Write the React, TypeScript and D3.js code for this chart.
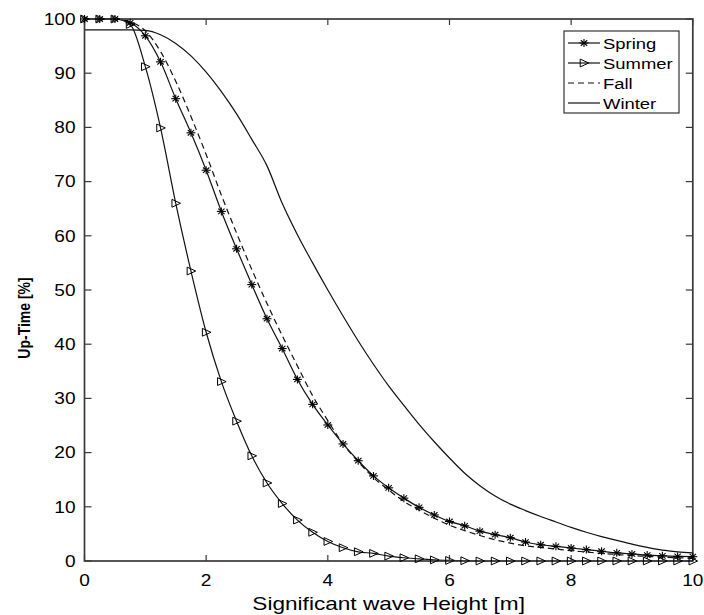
import React from "react";
import * as d3 from "d3";

const HEIGHTS = [0, 0.25, 0.5, 0.75, 1, 1.25, 1.5, 1.75, 2, 2.25, 2.5, 2.75, 3, 3.25, 3.5, 3.75, 4, 4.25, 4.5, 4.75, 5, 5.25, 5.5, 5.75, 6, 6.25, 6.5, 6.75, 7, 7.25, 7.5, 7.75, 8, 8.25, 8.5, 8.75, 9, 9.25, 9.5, 9.75, 10];

const SPRING = [100, 100, 100, 99.3, 96.9, 92.1, 85.3, 79.0, 72.1, 64.5, 57.6, 51.0, 44.7, 39.2, 33.5, 28.9, 25.1, 21.6, 18.5, 15.7, 13.5, 11.6, 9.9, 8.5, 7.3, 6.5, 5.5, 4.85, 4.3, 3.5, 3.0, 2.7, 2.4, 2.1, 1.8, 1.5, 1.3, 1.1, 0.95, 0.85, 0.8];
const SUMMER = [100, 100, 100, 99, 91.2, 79.9, 66, 53.5, 42.2, 33.1, 25.8, 19.4, 14.4, 10.6, 7.55, 5.3, 3.6, 2.45, 1.7, 1.4, 0.9, 0.6, 0.4, 0.2, 0.1, 0.05, 0, 0, 0, 0, 0, 0, 0, 0, 0, 0, 0, 0, 0, 0, 0];
const FALL = [100, 100, 100, 99.5, 97.8, 94.0, 88.5, 82.0, 75.0, 67.5, 60.5, 53.8, 47.5, 41.6, 36.0, 30.5, 25.9, 21.6, 18.3, 15.4, 13.1, 11.0, 9.4, 7.9, 6.6, 5.6, 4.7, 3.9, 3.3, 2.8, 2.5, 2.2, 1.9, 1.65, 1.4, 1.2, 1.0, 0.85, 0.7, 0.6, 0.5];
const WINTER = [98, 98, 98, 98, 97.9, 97.1, 95.5, 93.2, 90.2, 86.6, 82.5, 77.8, 72.9, 66.0, 60.2, 55.0, 50.0, 45.2, 40.6, 36.3, 32.3, 28.7, 25.2, 22.0, 19.0, 16.2, 13.9, 12.0, 10.5, 9.3, 8.2, 7.2, 6.2, 5.3, 4.5, 3.8, 3.1, 2.5, 2.0, 1.7, 1.5];

const X_TICKS = [0, 2, 4, 6, 8, 10];
const Y_TICKS = [0, 10, 20, 30, 40, 50, 60, 70, 80, 90, 100];
const SERIES_NAMES = ["Spring", "Summer", "Fall", "Winter"];
const X_LABEL = "Significant wave Height [m]";
const Y_LABEL = "Up-Time [%]";

const FONT = "'Liberation Sans', Arial, Helvetica, sans-serif";
const SX = 1.19;

const W = 704, H = 615;
const L = 84.5, R = 692.8, T = 19, B = 561;

function Asterisk({ x, y }: { x: number; y: number }) {
  const a = 4.5, b = 4, d = 3.2;
  return (
    <g stroke="#000" strokeWidth={1.1}>
      <line x1={x - a} y1={y} x2={x + a} y2={y} />
      <line x1={x} y1={y - b} x2={x} y2={y + b} />
      <line x1={x - d} y1={y - d * 0.85} x2={x + d} y2={y + d * 0.85} />
      <line x1={x - d} y1={y + d * 0.85} x2={x + d} y2={y - d * 0.85} />
    </g>
  );
}

function TriRight({ x, y }: { x: number; y: number }) {
  return (
    <path
      d={`M${x - 3.8},${y - 3.9}L${x + 4.8},${y}L${x - 3.8},${y + 3.9}Z`}
      fill="none"
      stroke="#000"
      strokeWidth={1}
    />
  );
}

export default function App() {
  const x = d3.scaleLinear().domain([0, 10]).range([L, R]);
  const y = d3.scaleLinear().domain([0, 100]).range([B, T]);
  const line = d3
    .line<number>()
    .x((_, i) => x(HEIGHTS[i]))
    .y((v) => y(v))
    .curve(d3.curveMonotoneX);

  const legendX = 564, legendY = 31, legendW = 115, legendH = 82;
  const entryY = (i: number) => 43 + i * 20;

  return (
    <svg
      width={W}
      height={H}
      style={{ position: "absolute", left: 0, top: 0, background: "#fff" }}
      fontFamily={FONT}
    >
      <rect x={0} y={0} width={W} height={H} fill="#fff" />
      {/* series lines */}
      <path d={line(WINTER) || ""} fill="none" stroke="#111" strokeWidth={1.2} />
      <path d={line(FALL) || ""} fill="none" stroke="#111" strokeWidth={1.2} strokeDasharray="6,4" />
      <path d={line(SPRING) || ""} fill="none" stroke="#111" strokeWidth={1.2} />
      <path d={line(SUMMER) || ""} fill="none" stroke="#111" strokeWidth={1.2} />

      {/* axes box */}
      <g stroke="#3a3a3a" strokeWidth={1.7} fill="none">
        <rect x={L} y={T} width={R - L} height={B - T} />
      </g>
      <g stroke="#3a3a3a" strokeWidth={1.2}>
        {X_TICKS.map((t) => (
          <g key={"xt" + t}>
            <line x1={x(t)} x2={x(t)} y1={B} y2={B - 6} />
            <line x1={x(t)} x2={x(t)} y1={T} y2={T + 6} />
          </g>
        ))}
        {Y_TICKS.map((t) => (
          <g key={"yt" + t}>
            <line x1={L} x2={L + 7} y1={y(t)} y2={y(t)} />
            <line x1={R} x2={R - 7} y1={y(t)} y2={y(t)} />
          </g>
        ))}
      </g>

      {/* markers */}
      {SPRING.map((v, i) => (
        <Asterisk key={"sp" + i} x={x(HEIGHTS[i])} y={y(v)} />
      ))}
      {SUMMER.map((v, i) => (
        <TriRight key={"su" + i} x={x(HEIGHTS[i])} y={y(v)} />
      ))}

      {/* tick labels */}
      {X_TICKS.map((t) => (
        <text
          key={"xl" + t}
          transform={`translate(${x(t)},${586}) scale(${SX},1)`}
          textAnchor="middle"
          fontSize={16}
          fill="#000"
        >
          {t}
        </text>
      ))}
      {Y_TICKS.map((t) => (
        <text
          key={"yl" + t}
          transform={`translate(${75.5},${y(t) + 5.8}) scale(${SX},1)`}
          textAnchor="end"
          fontSize={16}
          fill="#000"
        >
          {t}
        </text>
      ))}

      {/* axis labels */}
      <text
        transform={`translate(${(L + R) / 2},${610}) scale(${SX},1)`}
        textAnchor="middle"
        fontSize={19}
        fill="#000"
      >
        {X_LABEL}
      </text>
      <text
        transform={`translate(${30},${318}) scale(${SX},1) rotate(-90)`}
        textAnchor="middle"
        fontSize={14}
        fontWeight="bold"
        fill="#000"
      >
        {Y_LABEL}
      </text>

      {/* legend */}
      <rect x={legendX} y={legendY} width={legendW} height={legendH} fill="#fff" stroke="#222" strokeWidth={1.1} />
      {SERIES_NAMES.map((name, i) => {
        const yy = entryY(i);
        return (
          <g key={"lg" + name}>
            <line
              x1={568}
              x2={600}
              y1={yy}
              y2={yy}
              stroke="#111"
              strokeWidth={1.2}
              strokeDasharray={name === "Fall" ? "6,4" : undefined}
            />
            {name === "Spring" && <Asterisk x={584} y={yy} />}
            {name === "Summer" && <TriRight x={584} y={yy} />}
            <text
              transform={`translate(${603},${yy + 5.5}) scale(${SX},1)`}
              fontSize={15.5}
              fill="#000"
            >
              {name}
            </text>
          </g>
        );
      })}
    </svg>
  );
}
